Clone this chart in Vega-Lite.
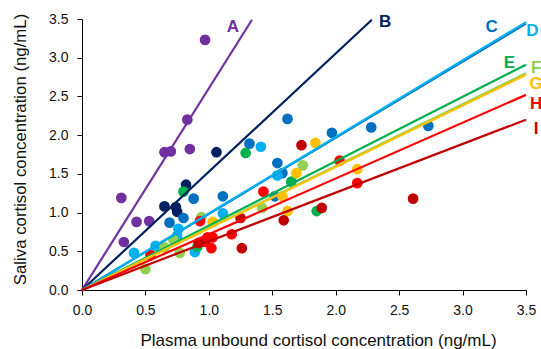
{
  "$schema": "https://vega.github.io/schema/vega-lite/v6.json",
  "width": 444,
  "height": 271,
  "autosize": "none",
  "padding": {"left": 82, "top": 19, "right": 15, "bottom": 59},
  "background": "white",
  "config": {
    "view": {"stroke": null},
    "font": "Liberation Sans",
    "axis": {
      "grid": false,
      "labelFlush": false,
      "domainColor": "#000000",
      "tickColor": "#000000",
      "tickSize": 5,
      "labelFont": "Liberation Sans",
      "labelFontSize": 14,
      "labelColor": "#111111",
      "titleFont": "Liberation Sans",
      "titleFontWeight": "normal",
      "titleColor": "#111111",
      "titleBaseline": "middle"
    }
  },
  "datasets": {
    "lines": [
      {"series": "A", "x": 0, "y": 0}, {"series": "A", "x": 1.34, "y": 3.49},
      {"series": "B", "x": 0, "y": 0}, {"series": "B", "x": 2.285, "y": 3.49},
      {"series": "C", "x": 0, "y": 0}, {"series": "C", "x": 3.5, "y": 3.44},
      {"series": "D", "x": 0, "y": 0}, {"series": "D", "x": 3.5, "y": 3.46},
      {"series": "E", "x": 0, "y": 0}, {"series": "E", "x": 3.5, "y": 2.91},
      {"series": "F", "x": 0, "y": 0}, {"series": "F", "x": 3.5, "y": 2.8},
      {"series": "G", "x": 0, "y": 0}, {"series": "G", "x": 3.5, "y": 2.78},
      {"series": "H", "x": 0, "y": 0}, {"series": "H", "x": 3.5, "y": 2.52},
      {"series": "I", "x": 0, "y": 0}, {"series": "I", "x": 3.5, "y": 2.2}
    ],
    "points": [
      {"series": "A", "x": 0.97, "y": 3.23}, {"series": "A", "x": 0.83, "y": 2.2}, {"series": "A", "x": 0.65, "y": 1.78},
      {"series": "A", "x": 0.7, "y": 1.79}, {"series": "A", "x": 0.85, "y": 1.82}, {"series": "A", "x": 0.31, "y": 1.19},
      {"series": "A", "x": 0.43, "y": 0.88}, {"series": "A", "x": 0.53, "y": 0.89}, {"series": "A", "x": 0.33, "y": 0.62},
      {"series": "B", "x": 1.06, "y": 1.78}, {"series": "B", "x": 0.82, "y": 1.36}, {"series": "B", "x": 0.65, "y": 1.08},
      {"series": "B", "x": 0.74, "y": 1.07}, {"series": "B", "x": 0.75, "y": 1.01},
      {"series": "C", "x": 1.62, "y": 2.21}, {"series": "C", "x": 1.97, "y": 2.03}, {"series": "C", "x": 2.28, "y": 2.1},
      {"series": "C", "x": 2.73, "y": 2.12}, {"series": "C", "x": 1.32, "y": 1.89}, {"series": "C", "x": 1.54, "y": 1.64},
      {"series": "C", "x": 1.58, "y": 1.51}, {"series": "C", "x": 0.88, "y": 1.18}, {"series": "C", "x": 0.69, "y": 0.87},
      {"series": "C", "x": 0.8, "y": 0.93}, {"series": "C", "x": 1.11, "y": 1.21}, {"series": "C", "x": 1.52, "y": 1.21},
      {"series": "D", "x": 1.41, "y": 1.85}, {"series": "D", "x": 1.54, "y": 1.48}, {"series": "D", "x": 1.11, "y": 0.99},
      {"series": "D", "x": 0.76, "y": 0.79}, {"series": "D", "x": 0.41, "y": 0.48}, {"series": "D", "x": 0.89, "y": 0.49},
      {"series": "D", "x": 0.58, "y": 0.57}, {"series": "D", "x": 0.75, "y": 0.7},
      {"series": "E", "x": 1.29, "y": 1.77}, {"series": "E", "x": 1.65, "y": 1.4}, {"series": "E", "x": 0.8, "y": 1.27},
      {"series": "E", "x": 1.85, "y": 1.02}, {"series": "E", "x": 0.91, "y": 0.56},
      {"series": "F", "x": 1.74, "y": 1.61}, {"series": "F", "x": 0.5, "y": 0.27}, {"series": "F", "x": 0.77, "y": 0.48},
      {"series": "F", "x": 0.72, "y": 0.65}, {"series": "F", "x": 0.94, "y": 0.94}, {"series": "F", "x": 1.42, "y": 1.06},
      {"series": "F", "x": 0.65, "y": 0.55},
      {"series": "G", "x": 1.84, "y": 1.9}, {"series": "G", "x": 1.69, "y": 1.51}, {"series": "G", "x": 1.58, "y": 1.21},
      {"series": "G", "x": 1.62, "y": 1.02}, {"series": "G", "x": 2.17, "y": 1.56}, {"series": "G", "x": 1.03, "y": 0.88},
      {"series": "H", "x": 1.43, "y": 1.27}, {"series": "H", "x": 0.93, "y": 0.89}, {"series": "H", "x": 0.99, "y": 0.68},
      {"series": "H", "x": 1.02, "y": 0.54}, {"series": "H", "x": 1.18, "y": 0.72}, {"series": "H", "x": 0.54, "y": 0.45},
      {"series": "H", "x": 1.03, "y": 0.68}, {"series": "H", "x": 2.03, "y": 1.67}, {"series": "H", "x": 2.17, "y": 1.38},
      {"series": "H", "x": 0.97, "y": 0.62},
      {"series": "I", "x": 1.73, "y": 1.87}, {"series": "I", "x": 1.89, "y": 1.06}, {"series": "I", "x": 1.59, "y": 0.9},
      {"series": "I", "x": 2.61, "y": 1.18}, {"series": "I", "x": 1.25, "y": 0.93}, {"series": "I", "x": 1.26, "y": 0.54},
      {"series": "I", "x": 0.92, "y": 0.61}
    ],
    "labels": [
      {"series": "A", "x": 1.19, "y": 3.4},
      {"series": "B", "x": 2.39, "y": 3.46},
      {"series": "C", "x": 3.23, "y": 3.4},
      {"series": "D", "x": 3.55, "y": 3.35},
      {"series": "E", "x": 3.37, "y": 2.93},
      {"series": "F", "x": 3.58, "y": 2.87},
      {"series": "G", "x": 3.58, "y": 2.66},
      {"series": "H", "x": 3.58, "y": 2.4},
      {"series": "I", "x": 3.58, "y": 2.08}
    ]
  },
  "encoding": {
    "x": {
      "field": "x", "type": "quantitative",
      "scale": {"domain": [0, 3.5], "nice": false},
      "axis": {"values": [0, 0.5, 1, 1.5, 2, 2.5, 3, 3.5], "format": ".1f", "labelPadding": 8,
        "titleFontSize": 17, "titleX": 236, "titleY": 50,
        "title": "Plasma unbound cortisol concentration (ng/mL)"}
    },
    "y": {
      "field": "y", "type": "quantitative",
      "scale": {"domain": [0, 3.5], "nice": false},
      "axis": {"values": [0, 0.5, 1, 1.5, 2, 2.5, 3, 3.5], "format": ".1f", "labelPadding": 9,
        "titleFontSize": 16.8, "titleX": -62, "titleY": 130,
        "title": "Saliva cortisol concentration (ng/mL)"}
    },
    "color": {
      "field": "series", "type": "nominal", "legend": null,
      "scale": {
        "domain": ["A", "B", "C", "D", "E", "F", "G", "H", "I"],
        "range": ["#7030A0", "#002060", "#0070C0", "#00B0F0", "#00B050", "#92D050", "#FFC000", "#FF0000", "#C00000"]
      }
    }
  },
  "layer": [
    {
      "data": {"name": "points"},
      "mark": {"type": "circle", "size": 115, "opacity": 1}
    },
    {
      "data": {"name": "lines"},
      "mark": {"type": "line", "strokeWidth": 2.2, "clip": false}
    },
    {
      "data": {"name": "labels"},
      "mark": {"type": "text", "fontSize": 17, "fontWeight": "bold", "font": "Liberation Sans", "align": "center", "baseline": "middle"},
      "encoding": {"text": {"field": "series"}}
    }
  ]
}
